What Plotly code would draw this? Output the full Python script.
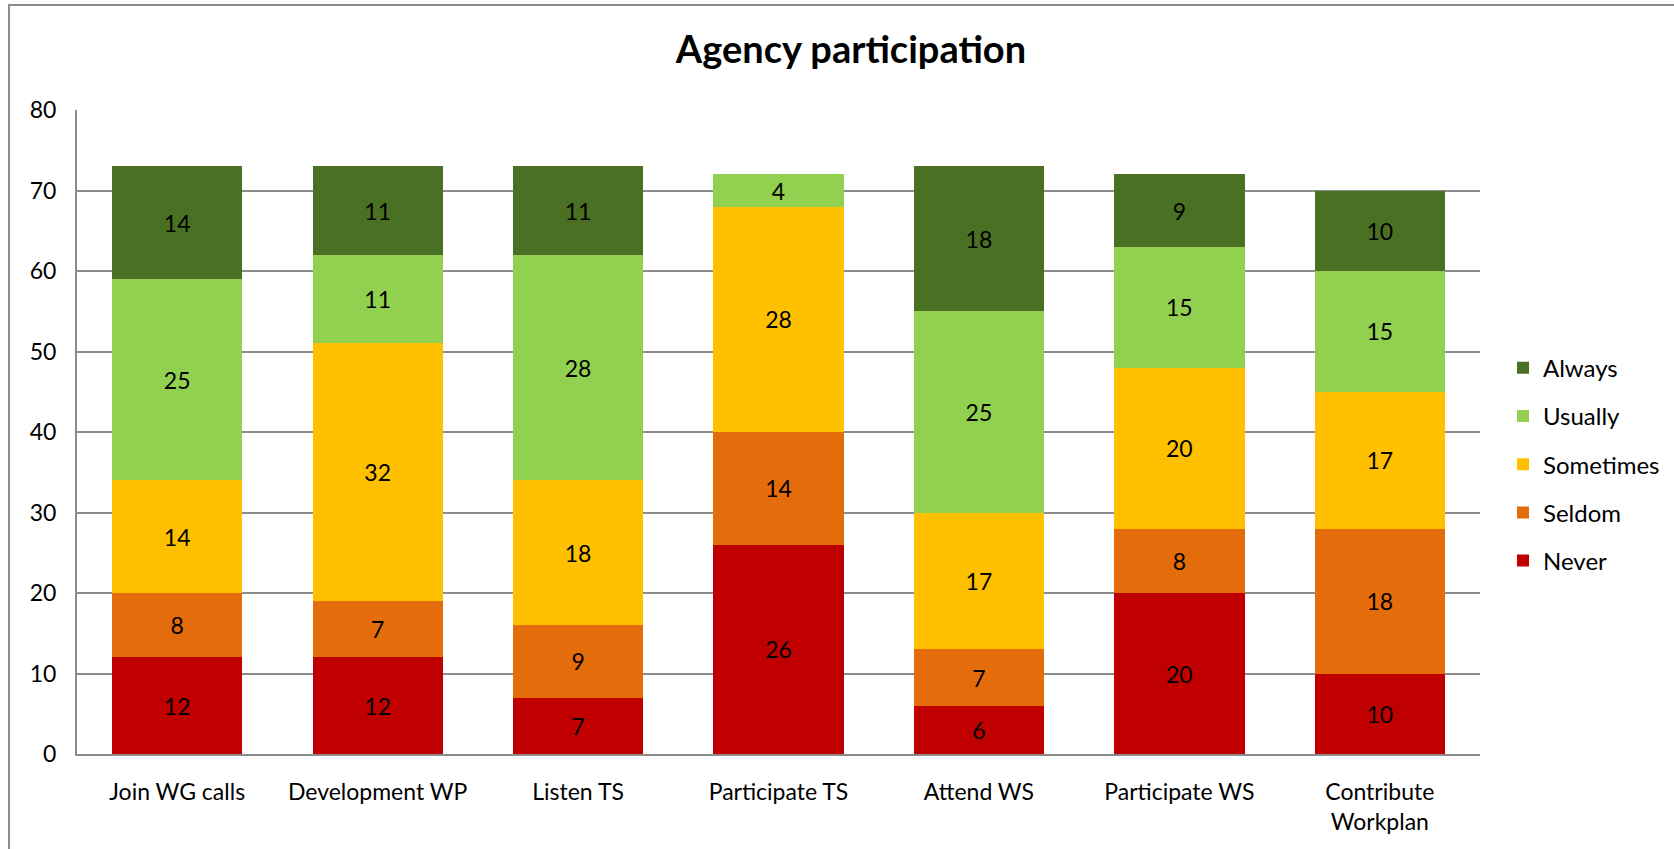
import plotly.graph_objects as go

categories = ["Join WG calls", "Development WP", "Listen TS", "Participate TS",
              "Attend WS", "Participate WS", "Contribute<br>Workplan"]

never = [12, 12, 7, 26, 6, 20, 10]
seldom = [8, 7, 9, 14, 7, 8, 18]
sometimes = [14, 32, 18, 28, 17, 20, 17]
usually = [25, 11, 28, 4, 25, 15, 15]
always = [14, 11, 11, None, 18, 9, 10]

series = [
    ("Never", never, "#C00000"),
    ("Seldom", seldom, "#E46C0A"),
    ("Sometimes", sometimes, "#FFC000"),
    ("Usually", usually, "#92D050"),
    ("Always", always, "#4A7023"),
]

FONT = "Lato, Calibri, sans-serif"
W, H = 1674, 849
ML, MR, MT, MB = 77, 194, 110, 95

fig = go.Figure()
for i, (name, vals, color) in enumerate(series):
    fig.add_trace(go.Bar(
        x=categories,
        y=vals,
        name=name,
        legendgroup=name,
        legendrank=len(series) - i,
        marker=dict(color=color, line=dict(width=0)),
        text=vals,
        texttemplate="%{text}",
        textposition="inside",
        insidetextanchor="middle",
        textangle=0,
        textfont=dict(color="black", size=23, family=FONT),
        constraintext="none",
    ))

# outer chart border (runs off the right/bottom edge in the reference)
pw, ph = W - ML - MR, H - MT - MB
fig.add_shape(
    type="rect", xref="paper", yref="paper",
    x0=(9 - ML) / pw, x1=(W + 10 - ML) / pw,
    y0=-(MB + 10) / ph, y1=(H - MB - 5) / ph,
    line=dict(color="#8C8C8C", width=2), fillcolor="rgba(0,0,0,0)",
)

fig.update_layout(
    barmode="stack",
    bargap=0.35,
    width=W, height=H,
    margin=dict(l=ML, r=MR, t=MT, b=MB, autoexpand=False),
    paper_bgcolor="white",
    plot_bgcolor="white",
    font=dict(family=FONT, size=23, color="black"),
    title=dict(text="<b>Agency participation</b>", x=851 / W, xref="container",
               xanchor="center", y=1 - 50 / H, yanchor="middle",
               font=dict(size=38, family=FONT, color="black")),
    legend=dict(
        xref="container", x=1503 / W, xanchor="left",
        y=0.45, yanchor="middle",
        traceorder="grouped", tracegroupgap=14,
        font=dict(size=24, family=FONT),
        itemwidth=30,
    ),
)

fig.update_yaxes(
    range=[0, 80], dtick=10,
    showgrid=True, gridcolor="#8C8C8C", gridwidth=1.5,
    showline=True, linecolor="#8C8C8C", linewidth=2,
    zeroline=False, ticks="", ticklabelstandoff=14,
    tickfont=dict(size=23, family=FONT),
)
fig.update_xaxes(
    showline=True, linecolor="#8C8C8C", linewidth=2,
    ticks="", ticklabelstandoff=16,
    tickfont=dict(size=23, family=FONT),
)

fig.write_html("out.html",
               config={"displayModeBar": False},
               post_script="document.body.style.margin='0';"
                           "document.body.style.overflow='hidden';")
